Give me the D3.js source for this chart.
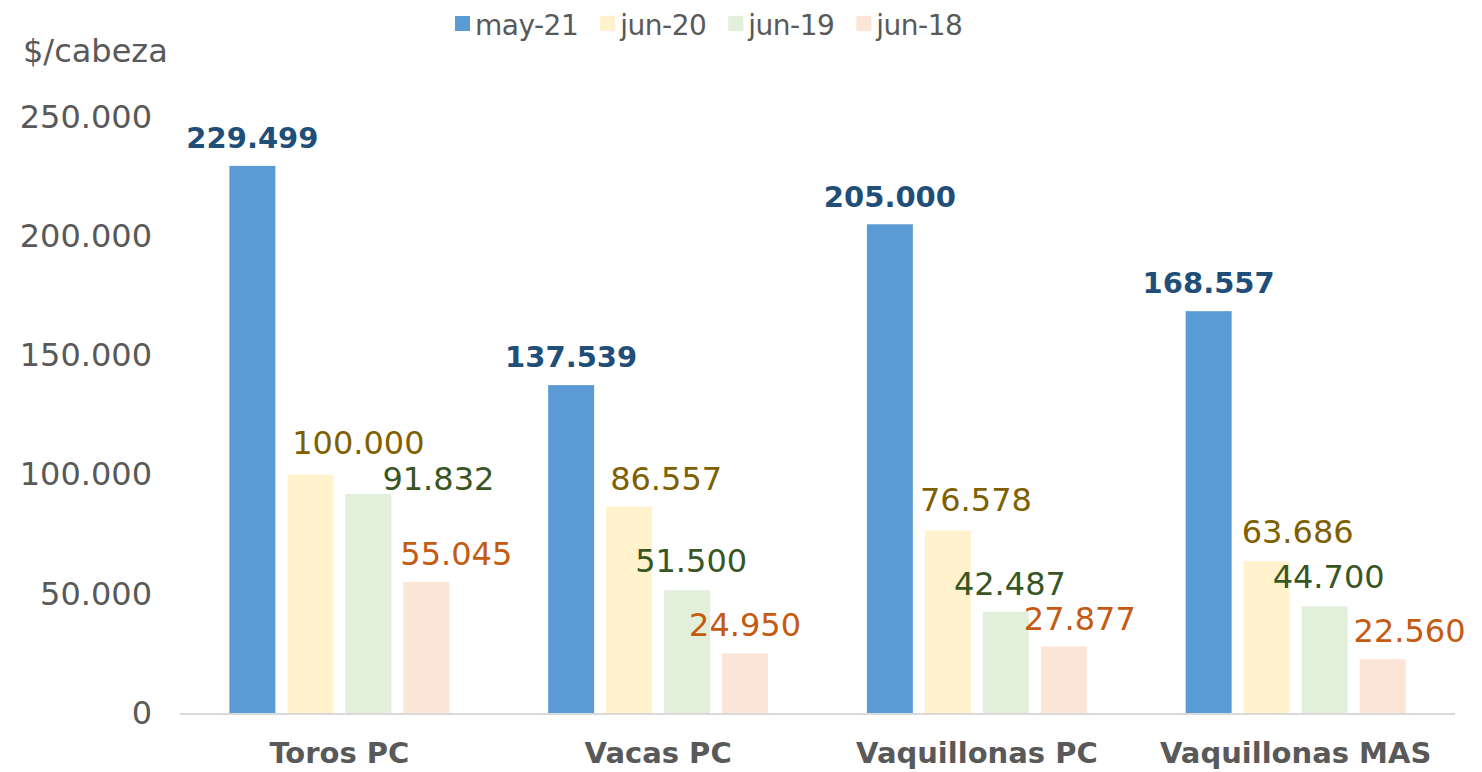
<!DOCTYPE html>
<html>
<head>
<meta charset="utf-8">
<script src="https://cdn.jsdelivr.net/npm/d3@7"></script>
<style>
    body { margin: 0; background: #fff; }
    svg text { font-family: "DejaVu Sans", sans-serif; }
</style>
</head>
<body>
<div id="chart"></div>
<script>
// Data
const categories = ["Toros PC", "Vacas PC", "Vaquillonas PC", "Vaquillonas MAS"];
const seriesNames = ["may-21", "jun-20", "jun-19", "jun-18"];
const may21 = [229499, 137539, 205000, 168557];
const jun20 = [100000, 86557, 76578, 63686];
const jun19 = [91832, 51500, 42487, 44700];
const jun18 = [55045, 24950, 27877, 22560];
const yTicks = [0, 50000, 100000, 150000, 200000, 250000];

// colours per series (bars, then labels)
const barColors = ["#5B9BD5", "#FFF2CC", "#E2EFDA", "#FBE5D6"];
const labelColors = ["#1F4E79", "#7F6000", "#375623", "#C55A11"];

// hand placed labels in the original, offsets from bar centre / top
const labelNudge = [
    [[0, -18], [0, -18], [0, -17], [0, -18]],
    [[48, -21], [37, -17], [28, -19], [31, -18]],
    [[70, -4], [4, -18], [4, -17], [4, -18]],
    [[30, -17], [0, -18], [16, -17], [27, -17]],
];

const width = 1482;
const height = 772;
const margin = { top: 117, bottom: 59, left: 180, right: 27 };

const svg = d3
    .select("#chart")
    .append("svg")
    .attr("width", width)
    .attr("height", height);

const locale = d3.formatLocale({ decimal: ",", thousands: ".", grouping: [3], currency: ["$", ""] });
const fmt = locale.format(",.0f");

const seriesValues = [may21, jun20, jun19, jun18];
const data = categories.map((c, i) => ({
    cat: c,
    vals: seriesValues.map((s, j) => ({ series: j, value: s[i] })),
}));

const x0 = d3
    .scaleBand()
    .domain(categories)
    .range([margin.left, width - margin.right])
    .paddingInner(0.31)
    .paddingOuter(0.155);

const x1 = d3
    .scaleBand()
    .domain(d3.range(seriesNames.length))
    .range([0, x0.bandwidth()])
    .paddingInner(0.207);

const y = d3
    .scaleLinear()
    .domain([0, 250000])
    .range([height - margin.bottom, margin.top]);

// y axis labels (no line, no ticks)
const yAxis = svg
    .append("g")
    .attr("transform", "translate(152,0)")
    .call(d3.axisLeft(y).tickValues(yTicks).tickFormat((d) => (d === 0 ? "0" : fmt(d))).tickSize(0).tickPadding(0));
yAxis.select(".domain").remove();
yAxis
    .selectAll("text")
    .attr("font-size", 32)
    .attr("font-family", "DejaVu Sans")
    .attr("fill", "#595959");

svg.append("text")
    .attr("x", 23)
    .attr("y", 62)
    .attr("font-size", 32)
    .attr("fill", "#595959")
    .text("$/cabeza");

// bars
const groups = svg
    .append("g")
    .selectAll("g")
    .data(data)
    .join("g")
    .attr("transform", (d) => "translate(" + x0(d.cat) + ",0)");

groups
    .selectAll("rect")
    .data((d) => d.vals)
    .join("rect")
    .attr("x", (d) => x1(d.series))
    .attr("width", x1.bandwidth())
    .attr("y", (d) => y(d.value))
    .attr("height", (d) => y(0) - y(d.value))
    .attr("fill", (d) => barColors[d.series]);

// value labels
groups.each(function (g, ci) {
    d3.select(this)
        .selectAll("text")
        .data(g.vals)
        .join("text")
        .attr("x", (d) => x1(d.series) + x1.bandwidth() / 2 + labelNudge[d.series][ci][0])
        .attr("y", (d) => y(d.value) + labelNudge[d.series][ci][1])
        .attr("text-anchor", "middle")
        .attr("font-size", (d) => (d.series === 0 ? 29 : 32))
        .attr("font-weight", (d) => (d.series === 0 ? "bold" : "normal"))
        .attr("fill", (d) => labelColors[d.series])
        .text((d) => fmt(d.value));
});

// baseline
svg.append("line")
    .attr("x1", margin.left)
    .attr("x2", width - margin.right)
    .attr("y1", y(0) + 1)
    .attr("y2", y(0) + 1)
    .attr("stroke", "#D9D9D9")
    .attr("stroke-width", 2);

// category labels
svg.append("g")
    .selectAll("text")
    .data(categories)
    .join("text")
    .attr("x", (d) => x0(d) + x0.bandwidth() / 2)
    .attr("y", 763)
    .attr("text-anchor", "middle")
    .attr("font-size", 29)
    .attr("font-weight", "bold")
    .attr("fill", "#595959")
    .text((d) => d);

// legend
const legend = svg.append("g").attr("transform", "translate(455,0)");
let lx = 0;
seriesNames.forEach((name, i) => {
    const item = legend.append("g").attr("transform", "translate(" + lx + ",0)");
    item.append("rect")
        .attr("x", 0)
        .attr("y", 16)
        .attr("width", 15)
        .attr("height", 15)
        .attr("fill", barColors[i]);
    const t = item.append("text")
        .attr("x", 20)
        .attr("y", 35)
        .attr("font-size", 28)
        .attr("letter-spacing", -0.5)
        .attr("fill", "#595959")
        .text(name);
    lx += 20 + t.node().getComputedTextLength() + 22;
});
</script>
</body>
</html>
